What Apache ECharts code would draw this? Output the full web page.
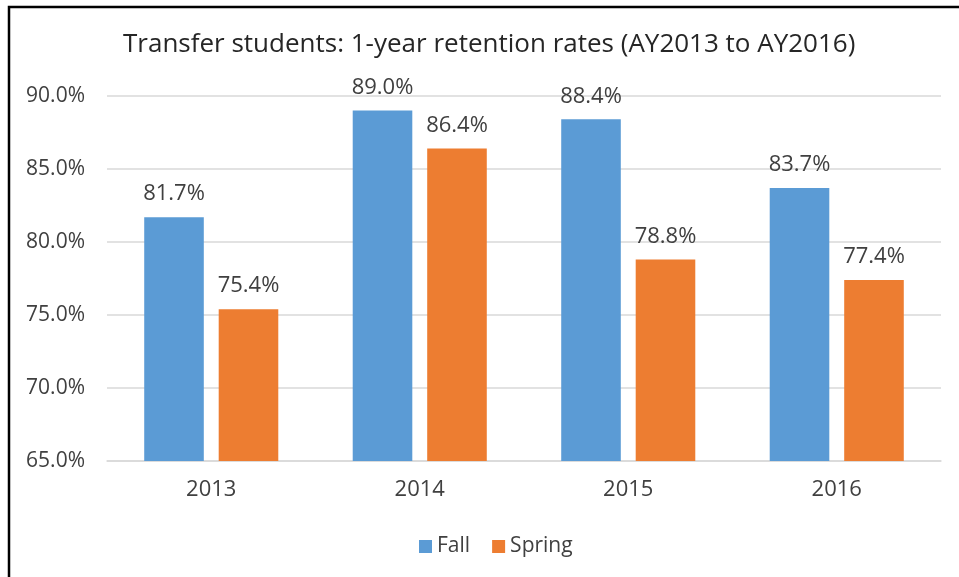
<!DOCTYPE html>
<html>
<head>
<meta charset="utf-8">
<title>Transfer students retention</title>
<script src="https://cdn.jsdelivr.net/npm/echarts@6/dist/echarts.min.js"></script>
<style>
  html, body { margin: 0; padding: 0; background: #fff; }
  #chart-container { width: 959px; height: 577px; }
</style>
</head>
<body>
<div id="chart-container"></div>
<script>
const years = ['2013', '2014', '2015', '2016'];
const fallRates = [81.7, 89.0, 88.4, 83.7];
const springRates = [75.4, 86.4, 78.8, 77.4];

const chart = echarts.init(document.getElementById('chart-container'));
const font = "'Open Sans', 'Noto Sans', sans-serif";

const pctLabel = {
  show: true,
  position: 'top',
  distance: 12,
  color: '#404040',
  fontSize: 22,
  fontFamily: font,
  formatter: (p) => p.value.toFixed(1) + '%'
};

const options = {
  animation: false,
  title: {
    text: 'Transfer students: 1-year retention rates (AY2013 to AY2016)',
    left: 123,
    top: 32,
    padding: 0,
    textStyle: { color: '#262626', fontSize: 26, fontWeight: 'normal', fontFamily: font }
  },
  // frame edge visible at the top and left of the original screenshot
  graphic: [{
    type: 'polyline',
    shape: { points: [[9, 577], [9, 7], [959, 7]] },
    style: { stroke: '#000', lineWidth: 2.5, fill: null }
  }],
  legend: {
    bottom: 20,
    left: 419,
    padding: 0,
    itemWidth: 13,
    itemHeight: 13,
    itemGap: 22,
    icon: 'rect',
    textStyle: { color: '#404040', fontSize: 21, fontFamily: font }
  },
  grid: { left: 107, right: 18, top: 96, bottom: 116 },
  xAxis: {
    type: 'category',
    data: years,
    axisLine: { lineStyle: { color: '#d9d9d9', width: 1.5 } },
    axisTick: { show: false },
    axisLabel: { color: '#404040', fontSize: 22, fontFamily: font, margin: 18 }
  },
  yAxis: {
    type: 'value',
    min: 65,
    max: 90,
    interval: 5,
    axisLine: { show: false },
    axisTick: { show: false },
    splitLine: { lineStyle: { color: '#d9d9d9', width: 1.5 } },
    axisLabel: {
      color: '#404040', fontSize: 21, fontFamily: font, margin: 22,
      formatter: (v) => v.toFixed(1) + '%'
    }
  },
  series: [
    {
      name: 'Fall',
      type: 'bar',
      data: fallRates,
      barGap: '25%',
      barCategoryGap: '35.7%',
      itemStyle: { color: '#5b9bd5' },
      label: pctLabel
    },
    {
      name: 'Spring',
      type: 'bar',
      data: springRates,
      itemStyle: { color: '#ed7d31' },
      label: pctLabel
    }
  ]
};

chart.setOption(options);
</script>
</body>
</html>
